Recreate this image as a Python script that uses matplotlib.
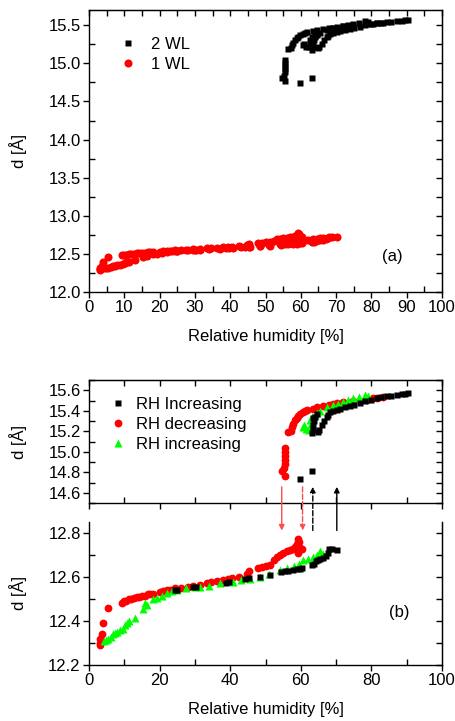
import matplotlib
matplotlib.use('Agg')
import matplotlib.pyplot as plt
from matplotlib.ticker import MultipleLocator, FormatStrFormatter
from matplotlib.patches import ConnectionPatch

plt.rcParams['font.family'] = ['Liberation Sans', 'DejaVu Sans']
plt.rcParams['font.size'] = 12

# ---------------- data ----------------
# RH decreasing (red circles)
dec_lo_x = [3.0, 3.2, 3.4, 3.1, 3.6, 3.9, 5.5, 9.3, 9.8, 10.5, 11.2, 12.0, 12.8, 13.5, 14.3, 15.0,
            15.8, 16.6, 17.4, 18.2, 20.2, 21.0, 22.0, 23.0, 24.5, 26.0, 28.1, 29.5, 31.4, 33.3,
            34.5, 36.2, 38.0, 39.5, 40.5, 42.5, 44.8, 45.3, 48.0, 49.0, 50.2, 51.3, 52.5, 53.2,
            54.0, 55.0, 56.0, 56.9, 57.8, 58.4, 58.8, 59.1, 59.4, 59.1, 59.8, 60.2]
dec_lo_y = [12.29, 12.30, 12.31, 12.32, 12.34, 12.39, 12.46, 12.48, 12.49, 12.49, 12.50, 12.50,
            12.505, 12.51, 12.51, 12.515, 12.515, 12.52, 12.52, 12.52, 12.53, 12.535, 12.538,
            12.54, 12.548, 12.55, 12.555, 12.56, 12.565, 12.572, 12.575, 12.58, 12.585, 12.59,
            12.595, 12.60, 12.615, 12.625, 12.64, 12.645, 12.65, 12.655, 12.675, 12.69, 12.70,
            12.71, 12.715, 12.72, 12.725, 12.735, 12.75, 12.77, 12.76, 12.71, 12.73, 12.725]
dec_hi_x = [54.8, 55.4, 55.3, 55.5, 55.4, 55.6, 55.5, 55.6, 56.3, 57.2, 57.4, 57.9, 58.4, 58.8,
            59.3, 59.8, 60.5, 61.2, 61.7, 63.5, 64.5, 66.4, 68.0, 69.2, 70.2, 72.0, 74.9, 78.7,
            80.5, 81.5, 83.4]
dec_hi_y = [14.81, 14.77, 14.84, 14.88, 14.92, 14.96, 15.00, 15.04, 15.19, 15.20, 15.24, 15.27,
            15.31, 15.33, 15.35, 15.37, 15.39, 15.40, 15.41, 15.42, 15.44, 15.45, 15.46, 15.47,
            15.48, 15.49, 15.50, 15.51, 15.52, 15.525, 15.535]

# RH increasing, second run (green triangles)
grn_lo_x = [4.2, 4.8, 5.5, 6.2, 6.9, 7.4, 8.0, 8.8, 9.5, 10.2, 10.8, 11.2, 13.0, 15.4, 15.9, 16.3,
            18.0, 19.2, 20.6, 22.0, 23.5, 24.8, 27.6, 30.0, 31.4, 34.0, 37.0, 40.9, 43.0, 45.5,
            48.4, 51.0, 54.1, 56.0, 58.0, 59.5, 60.7, 62.0, 63.5, 64.5, 65.4, 66.2]
grn_lo_y = [12.31, 12.315, 12.32, 12.325, 12.34, 12.345, 12.35, 12.36, 12.365, 12.38, 12.39,
            12.40, 12.415, 12.455, 12.48, 12.47, 12.50, 12.505, 12.515, 12.525, 12.535, 12.54,
            12.548, 12.553, 12.555, 12.56, 12.57, 12.578, 12.585, 12.592, 12.60, 12.615, 12.63,
            12.64, 12.65, 12.66, 12.675, 12.68, 12.69, 12.70, 12.715, 12.705]
grn_hi_x = [60.5, 61.0, 61.6, 62.3, 62.6, 62.6, 63.3, 64.0, 64.5, 65.5, 67.3, 69.0, 70.5, 72.0,
            73.5, 74.9, 76.5, 78.2, 79.0]
grn_hi_y = [15.24, 15.26, 15.22, 15.21, 15.25, 15.31, 15.34, 15.36, 15.38, 15.40, 15.44, 15.46,
            15.47, 15.49, 15.505, 15.52, 15.53, 15.55, 15.54]

# RH Increasing (black squares)
inc_lo_x = [24.4, 25.0, 29.6, 30.4, 38.8, 39.6, 44.2, 45.3, 48.4, 51.3, 54.5, 55.5, 56.5, 57.9,
            58.8, 59.8, 60.4, 63.1, 63.7, 64.3, 64.8, 65.5, 66.4, 67.2, 67.8, 68.1, 68.8, 70.2]
inc_lo_y = [12.538, 12.54, 12.555, 12.555, 12.573, 12.575, 12.59, 12.595, 12.60, 12.61, 12.622,
            12.625, 12.628, 12.632, 12.634, 12.637, 12.64, 12.652, 12.66, 12.67, 12.676, 12.68,
            12.685, 12.695, 12.71, 12.725, 12.725, 12.722]
inc_hi_x = [59.8, 63.1, 63.3, 63.5, 63.4, 63.6, 63.5, 64.0, 64.6, 64.9, 65.2, 65.9, 66.5, 67.3,
            67.8, 68.2, 69.2, 70.2, 71.1, 72.5, 73.9, 75.2, 76.7, 78.2, 80.0, 81.5, 82.8, 84.3,
            85.6, 87.2, 88.6, 89.5, 90.5]
inc_hi_y = [14.74, 14.81, 15.18, 15.21, 15.26, 15.30, 15.33, 15.34, 15.37, 15.196, 15.21, 15.26,
            15.30, 15.34, 15.36, 15.39, 15.40, 15.41, 15.42, 15.44, 15.45, 15.46, 15.48, 15.50,
            15.51, 15.525, 15.53, 15.54, 15.545, 15.555, 15.56, 15.565, 15.57]

# transition arrows (RH positions)
arrow_down_x = [54.6, 60.5]
arrow_up_x = [63.4, 70.2]
arrow_styles_down = ['-', '--']
arrow_styles_up = ['--', '-']

# panel (a): union of the runs
wl2_x = dec_hi_x + grn_hi_x + inc_hi_x
wl2_y = dec_hi_y + grn_hi_y + inc_hi_y
wl1_x = dec_lo_x + grn_lo_x + inc_lo_x
wl1_y = dec_lo_y + grn_lo_y + inc_lo_y

RED = '#ff0000'
GRN = '#00ff00'
ARW_RED = '#ff4a4a'

fig = plt.figure(figsize=(4.55, 7.21), dpi=100)
W, H = 455.0, 721.0


def add_axes(left, top, right, bottom):
    return fig.add_axes([left / W, 1 - bottom / H, (right - left) / W, (bottom - top) / H])


def style(ax, xmaj, xmin, ymaj, ymin, yfmt, top=True, xlabels=True):
    ax.set_xlim(0, 100)
    ax.xaxis.set_major_locator(MultipleLocator(xmaj))
    ax.xaxis.set_minor_locator(MultipleLocator(xmin))
    ax.yaxis.set_major_locator(MultipleLocator(ymaj))
    ax.yaxis.set_minor_locator(MultipleLocator(ymin))
    ax.yaxis.set_major_formatter(FormatStrFormatter(yfmt))
    ax.tick_params(which='major', direction='out', length=4, width=1, top=False, right=False,
                   labelsize=12, pad=2, labelbottom=xlabels)
    ax.tick_params(which='minor', direction='in', length=4, width=1, top=False, right=False)
    for s in ax.spines.values():
        s.set_linewidth(1)
    if top:
        sx = ax.secondary_xaxis('top')
        sx.xaxis.set_major_locator(MultipleLocator(xmin))
        sx.tick_params(direction='in', length=4, width=1, labeltop=False)
        sx.xaxis.set_minor_locator(MultipleLocator(1000))
    else:
        ax.spines['top'].set_visible(False)
    sy = ax.secondary_yaxis('right')
    sy.yaxis.set_major_locator(MultipleLocator(ymin))
    sy.yaxis.set_minor_locator(MultipleLocator(1000))
    sy.tick_params(direction='in', length=4, width=1, labelright=False)


# ---------------- panel (a) ----------------
axa = add_axes(89, 10, 442, 292)
axa.plot(wl2_x, wl2_y, 's', color='black', ms=5, mec='none', label='2 WL')
axa.plot(wl1_x, wl1_y, 'o', color=RED, ms=5.8, mec='none', label='1 WL')
axa.set_ylim(12.0, 15.7)
style(axa, 10, 5, 0.5, 0.25, '%.1f')
axa.set_xlabel('Relative humidity [%]', fontsize=12, labelpad=10)
axa.set_ylabel('d [Å]', fontsize=12, labelpad=15)
axa.legend(loc='upper left', bbox_to_anchor=(0.068, 0.927), frameon=False, fontsize=12,
           handlelength=1.0, handletextpad=0.9, labelspacing=0.3, borderaxespad=0)
axa.text(86, 12.46, '(a)', fontsize=12, ha='center', va='center')

# ---------------- panel (b) ----------------
axu = add_axes(89, 380, 442, 503.3)
axl = add_axes(89, 521.7, 442, 665)
for ax in (axu, axl):
    ax.plot(inc_lo_x + inc_hi_x, inc_lo_y + inc_hi_y, 's', color='black', ms=5, mec='none',
            label='RH Increasing', zorder=3)
    ax.plot(dec_lo_x + dec_hi_x, dec_lo_y + dec_hi_y, 'o', color=RED, ms=5.6, mec='none',
            label='RH decreasing', zorder=2)
    ax.plot(grn_lo_x + grn_hi_x, grn_lo_y + grn_hi_y, '^', color=GRN, ms=5.8, mec='none',
            label='RH increasing', zorder=2.5)
axu.set_ylim(14.5, 15.7)
axl.set_ylim(12.2, 12.85)
style(axu, 20, 10, 0.2, 0.1, '%.1f', top=True, xlabels=False)
style(axl, 20, 10, 0.2, 0.1, '%.1f', top=False, xlabels=True)
axu.set_ylabel('d [Å]', fontsize=12, labelpad=15)
axl.set_ylabel('d [Å]', fontsize=12, labelpad=15)
axl.set_xlabel('Relative humidity [%]', fontsize=12, labelpad=10)
axu.legend(loc='upper left', bbox_to_anchor=(0.04, 0.92), frameon=False, fontsize=12,
           handlelength=1.0, handletextpad=0.6, labelspacing=0.3, borderaxespad=0)
axl.text(88, 12.437, '(b)', fontsize=12, ha='center', va='center')

for x, ls in zip(arrow_down_x, arrow_styles_down):
    con = ConnectionPatch(xyA=(x, 14.66), coordsA='data', axesA=axu,
                          xyB=(x, 12.81), coordsB='data', axesB=axl,
                          arrowstyle='-|>', mutation_scale=8, color=ARW_RED, lw=1, linestyle=ls)
    fig.add_artist(con)
for x, ls in zip(arrow_up_x, arrow_styles_up):
    con = ConnectionPatch(xyA=(x, 12.81), coordsA='data', axesA=axl,
                          xyB=(x, 14.66), coordsB='data', axesB=axu,
                          arrowstyle='-|>', mutation_scale=8, color='black', lw=1, linestyle=ls)
    fig.add_artist(con)

fig.savefig('out.png', dpi=100)
